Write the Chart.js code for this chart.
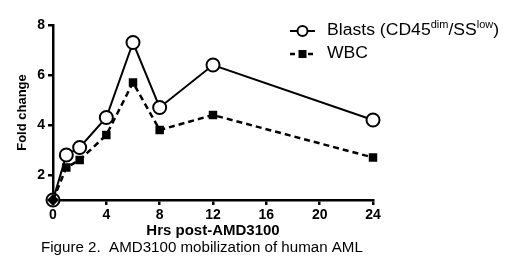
<!DOCTYPE html>
<html>
<head>
<meta charset="utf-8">
<script src="https://cdn.jsdelivr.net/npm/chart.js@4.4.1/dist/chart.umd.min.js"></script>
<style>
  html, body { margin: 0; padding: 0; background: #ffffff; }
  #wrap { position: relative; width: 520px; height: 273px; }
</style>
</head>
<body>
<div id="wrap"><canvas id="c" width="520" height="273"></canvas></div>
<script>
// ---- data ----
const hours = [0, 1, 2, 4, 6, 8, 12, 24];
const blasts = [1, 2.8, 3.1, 4.3, 7.3, 4.7, 6.4, 4.2];
const wbc = [1, 2.3, 2.6, 3.6, 5.7, 3.8, 4.4, 2.7];
const xTicks = [0, 4, 8, 12, 16, 20, 24];
const yTicks = [2, 4, 6, 8];
const seriesNames = ['Blasts', 'WBC'];
const xTitle = 'Hrs post-AMD3100';
const yTitle = 'Fold change';
const caption = 'Figure 2.  AMD3100 mobilization of human AML';

const FONT = '"Liberation Sans", Arial, Helvetica, sans-serif';

const toXY = (xs, ys) => xs.map((x, i) => ({ x: x, y: ys[i] }));

function stretchedText(ctx, text, x, y, sx) {
  ctx.save();
  ctx.translate(x, y);
  ctx.scale(sx, 1);
  ctx.fillText(text, 0, 0);
  const w = ctx.measureText(text).width * sx;
  ctx.restore();
  return w;
}

const extras = {
  id: 'extras',
  afterDraw(chart) {
    const ctx = chart.ctx;
    ctx.save();
    ctx.fillStyle = '#000';
    ctx.strokeStyle = '#000';
    ctx.textBaseline = 'middle';
    ctx.textAlign = 'left';
    const SX = 1.1;
    const big = '16px ' + FONT, small = '10px ' + FONT;
    // legend row 1 (Blasts)
    const y1 = 31;
    ctx.lineWidth = 2;
    ctx.setLineDash([]);
    ctx.beginPath(); ctx.moveTo(290, y1); ctx.lineTo(315, y1); ctx.stroke();
    ctx.beginPath(); ctx.arc(302.5, y1, 5, 0, Math.PI * 2);
    ctx.fillStyle = '#fff'; ctx.fill(); ctx.stroke();
    ctx.fillStyle = '#000';
    const parts = [
      [seriesNames[0] + ' (CD45', big, 0], ['dim', small, -6], ['/SS', big, 0], ['low', small, -6], [')', big, 0]
    ];
    let x = 327;
    for (const [t, f, dy] of parts) {
      ctx.font = f;
      x += stretchedText(ctx, t, x, y1 + dy, SX);
    }
    // legend row 2 (WBC)
    const y2 = 54;
    ctx.lineWidth = 2.5;
    ctx.setLineDash([5, 4]);
    ctx.beginPath(); ctx.moveTo(290, y2); ctx.lineTo(315, y2); ctx.stroke();
    ctx.setLineDash([]);
    ctx.fillRect(298.5, y2 - 4, 8, 8);
    ctx.font = big;
    stretchedText(ctx, seriesNames[1], 327, y2, SX);
    // caption
    ctx.font = '14px ' + FONT;
    stretchedText(ctx, caption, 41, 248, 1.08);
    ctx.restore();
  }
};

new Chart(document.getElementById('c'), {
  type: 'line',
  data: {
    datasets: [
      {
        label: seriesNames[1],
        data: toXY(hours, wbc),
        borderColor: '#000',
        backgroundColor: '#000',
        borderWidth: 2.5,
        borderDash: [6, 4],
        pointStyle: hours.map((h, i) => i === 0 ? 'rectRot' : 'rect'),
        pointRadius: 6,
        pointBorderWidth: 0,
        pointBackgroundColor: '#000',
        clip: false,
        tension: 0
      },
      {
        label: seriesNames[0],
        data: toXY(hours, blasts),
        borderColor: '#000',
        backgroundColor: '#fff',
        borderWidth: 2,
        pointStyle: 'circle',
        pointRadius: 6.5,
        pointBorderWidth: 2,
        pointBackgroundColor: '#fff',
        pointBorderColor: '#000',
        clip: false,
        tension: 0
      }
    ]
  },
  options: {
    responsive: false,
    animation: false,
    events: [],
    layout: { padding: { left: 0, right: 147, top: 25, bottom: 0 } },
    plugins: { legend: { display: false }, tooltip: { enabled: false }, title: { display: false } },
    scales: {
      x: {
        type: 'linear',
        min: 0, max: 24,
        afterBuildTicks: s => { s.ticks = xTicks.map(v => ({ value: v })); },
        afterFit: s => { s.height = 73; s.paddingLeft = 0; s.paddingRight = 0; },
        border: { display: true, color: '#000', width: 2.5 },
        grid: { display: true, drawOnChartArea: false, drawTicks: true, tickLength: 5, color: '#000', lineWidth: 2.5 },
        ticks: { color: '#000', padding: 2, font: { family: FONT, size: 14, weight: 'bold' }, maxRotation: 0, autoSkip: false },
        title: { display: true, text: xTitle, color: '#000', font: { family: FONT, size: 15, weight: 'bold' }, padding: { top: 0, bottom: 33 } }
      },
      y: {
        type: 'linear',
        min: 1, max: 8,
        afterBuildTicks: s => { s.ticks = yTicks.map(v => ({ value: v })); },
        afterFit: s => { s.width = 53; s.paddingTop = 0; s.paddingBottom = 0; },
        border: { display: true, color: '#000', width: 2.5 },
        grid: { display: true, drawOnChartArea: false, drawTicks: true, tickLength: 5, color: '#000', lineWidth: 2.5 },
        ticks: { color: '#000', padding: 3, font: { family: FONT, size: 14, weight: 'bold' } },
        title: { display: true, text: yTitle, color: '#000', font: { family: FONT, size: 13, weight: 'bold' }, padding: { top: 15, bottom: 0 } }
      }
    }
  },
  plugins: [extras]
});
</script>
</body>
</html>
